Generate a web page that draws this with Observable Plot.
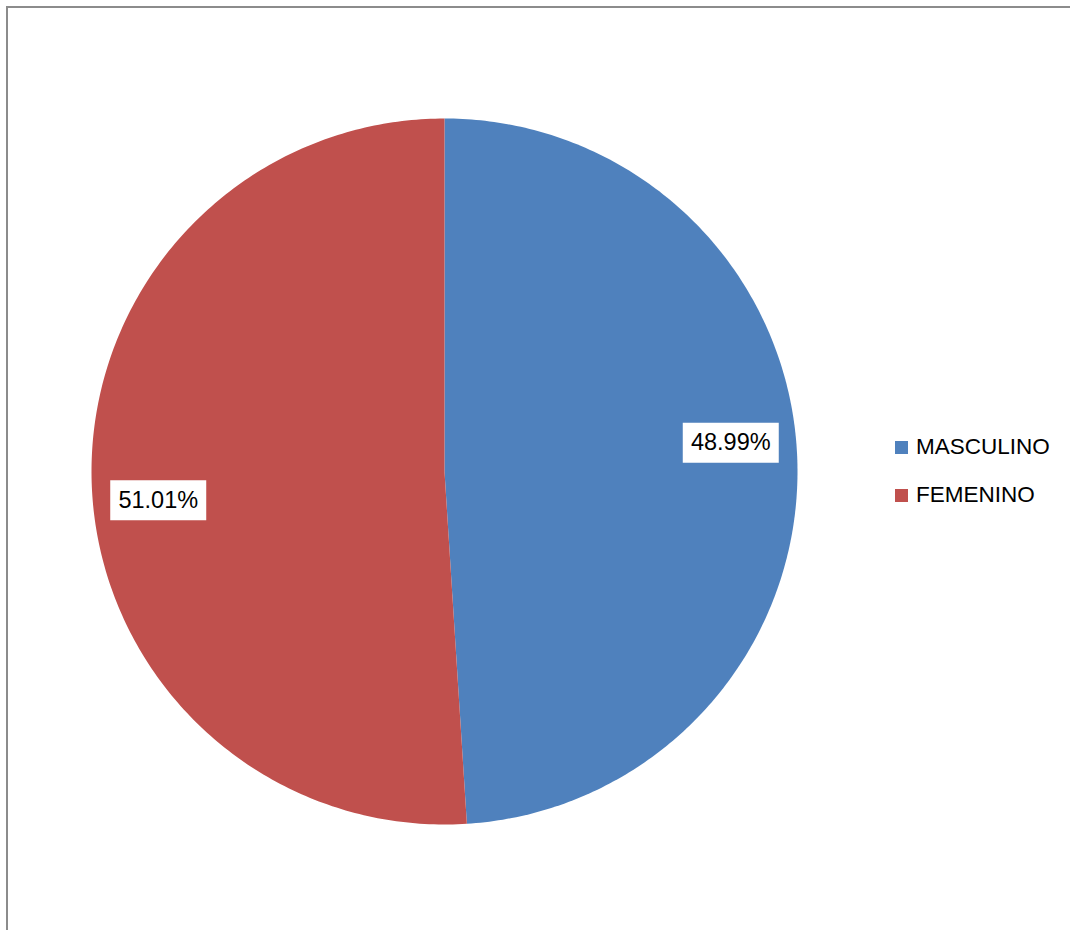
<!DOCTYPE html>
<html>
<head>
<meta charset="utf-8">
<script src="https://cdn.jsdelivr.net/npm/d3@7"></script>
<script src="https://cdn.jsdelivr.net/npm/@observablehq/plot@0.6"></script>
<style>
  html, body { margin: 0; padding: 0; background: #fff; overflow: hidden; }
  #wrap { position: relative; width: 1070px; height: 930px; font-family: "Liberation Sans", Arial, sans-serif; }
  #frame { position: absolute; left: 6px; top: 6px; width: 1200px; height: 1100px; border-left: 2px solid #8c8c8c; border-top: 2px solid #8c8c8c; box-sizing: border-box; }
  #chart { position: absolute; left: 0; top: 0; }
  #legend { position: absolute; left: 895px; top: 434px; }
  .item { display: flex; align-items: center; height: 26px; margin-bottom: 22px; font-size: 22.5px; color: #000; white-space: nowrap; }
  .sw { display: inline-block; width: 13px; height: 13px; margin-right: 8px; }
</style>
</head>
<body>
<div id="wrap">
  <div id="frame"></div>
  <div id="chart"></div>
  <div id="legend"></div>
</div>
<script>
// Data
const categories = ["MASCULINO", "FEMENINO"];
const shares = [48.99, 51.01];
const labels = ["48.99%", "51.01%"];
const colors = ["#4F81BD", "#C0504D"];

// Build slices (clockwise from 12 o'clock, like Excel)
const total = d3.sum(shares);
const slices = [];
let acc = 0;
categories.forEach((c, i) => {
  const a0 = acc / total * 2 * Math.PI;
  acc += shares[i];
  const a1 = acc / total * 2 * Math.PI;
  slices.push({category: c, label: labels[i], a0, a1});
});

const steps = 240;
const pts = [];
slices.forEach(s => {
  pts.push({category: s.category, x: 0, y: 0});
  for (let k = 0; k <= steps; k++) {
    const a = s.a0 + (s.a1 - s.a0) * k / steps;
    pts.push({category: s.category, x: Math.sin(a), y: Math.cos(a)});
  }
  pts.push({category: s.category, x: 0, y: 0});
});

const labelR = 0.815, labelShift = -0.068;
const labelPts = slices.map(s => {
  const m = (s.a0 + s.a1) / 2 + labelShift;
  return {category: s.category, label: s.label, x: labelR * Math.sin(m), y: labelR * Math.cos(m)};
});

const boxSymbol = { draw(ctx) { ctx.moveTo(-48, -20); ctx.lineTo(48, -20); ctx.lineTo(48, 20); ctx.lineTo(-48, 20); ctx.closePath(); } };

const plot = Plot.plot({
  width: 1070,
  height: 930,
  marginLeft: 91,
  marginRight: 273,
  marginTop: 118,
  marginBottom: 106,
  x: {domain: [-1, 1], axis: null},
  y: {domain: [-1, 1], axis: null},
  color: {domain: categories, range: colors},
  style: {background: "transparent", fontFamily: "'Liberation Sans', Arial, sans-serif"},
  marks: [
    Plot.line(pts, {x: "x", y: "y", z: "category", fill: "category", stroke: "none", curve: "linear"}),
    Plot.dot(labelPts, {x: "x", y: "y", symbol: boxSymbol, fill: "white", stroke: "none", r: 10}),
    Plot.text(labelPts, {x: "x", y: "y", text: "label", fill: "black", fontSize: 23.5})
  ]
});
document.getElementById("chart").appendChild(plot);

const legend = document.getElementById("legend");
categories.forEach((c, i) => {
  const row = document.createElement("div");
  row.className = "item";
  const sw = document.createElement("span");
  sw.className = "sw";
  sw.style.background = colors[i];
  row.appendChild(sw);
  row.appendChild(document.createTextNode(c));
  legend.appendChild(row);
});
</script>
</body>
</html>
